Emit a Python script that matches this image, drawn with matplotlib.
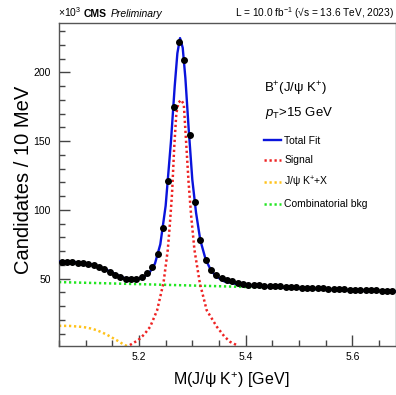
import numpy as np
import matplotlib
matplotlib.use('Agg')
import matplotlib.pyplot as plt
from matplotlib.ticker import MultipleLocator
from matplotlib.lines import Line2D

plt.rcParams['font.family'] = ['Liberation Sans', 'DejaVu Sans']
plt.rcParams['mathtext.fontset'] = 'custom'
plt.rcParams['mathtext.rm'] = 'Liberation Sans'
plt.rcParams['mathtext.it'] = 'Liberation Sans:italic'
plt.rcParams['mathtext.bf'] = 'Liberation Sans:bold'

# data: candidates per 10 MeV bin (x 10^3)
mass = np.round(np.arange(5.055, 5.676, 0.01), 3)
counts = [62.0, 62.2, 62.0, 61.6, 61.2, 60.6, 59.6, 58.4, 56.8, 54.9,
          52.9, 51.2, 50.0, 49.6, 50.0, 51.5, 53.8, 58.8, 68.2, 86.8,
          121.4, 175.2, 222.0, 209.3, 154.3, 105.9, 77.9, 63.3, 56.5, 52.8,
          50.6, 49.2, 48.0, 47.0, 46.3,
          45.7, 45.4, 45.1, 44.9, 44.7, 44.5, 44.3, 44.1, 43.9, 43.7,
          43.5, 43.4, 43.2, 43.0, 42.9, 42.7, 42.6, 42.4, 42.3, 42.1,
          42.0, 41.8, 41.7, 41.5, 41.4, 41.3, 41.1, 41.0]

# fit curves
total_x = [5.05, 5.07, 5.09, 5.11, 5.13, 5.15, 5.165, 5.18, 5.195, 5.21,
           5.22, 5.23, 5.24, 5.25, 5.26, 5.267, 5.272, 5.277, 5.282, 5.287,
           5.293, 5.30, 5.307, 5.315, 5.325, 5.335, 5.345, 5.36, 5.38, 5.40,
           5.42, 5.45, 5.50, 5.55, 5.60, 5.65, 5.683]
total_y = [62.5, 62.3, 61.8, 60.5, 58.0, 54.5, 51.5, 49.5, 49.5, 51.5,
           54.5, 61.0, 75.0, 103.0, 150.0, 190.0, 214.0, 225.0, 218.0, 196.0,
           160.0, 122.0, 98.0, 78.0, 64.0, 56.0, 51.5, 48.0, 46.3, 45.2,
           44.5, 43.8, 42.9, 42.1, 41.5, 41.0, 40.7]

signal_x = [5.183, 5.199, 5.210, 5.221, 5.234, 5.246, 5.254, 5.258, 5.262, 5.266,
            5.270, 5.274, 5.279, 5.284, 5.288, 5.293, 5.298, 5.304, 5.314, 5.327,
            5.346, 5.360, 5.371, 5.383]
signal_y = [1.7, 5.4, 9.5, 15.0, 27.0, 47.0, 71.0, 90.0, 112.0, 145.0,
            170.0, 178.0, 180.0, 177.0, 152.0, 120.0, 95.0, 71.0, 47.0, 27.0,
            15.0, 8.0, 4.0, 1.7]

partreco_x = [5.05, 5.07, 5.09, 5.10, 5.11, 5.12, 5.13, 5.14, 5.15, 5.16, 5.17, 5.18]
partreco_y = [15.7, 15.6, 15.0, 14.5, 13.7, 12.6, 11.0, 9.2, 7.0, 4.8, 2.4, 0.5]

comb_x = [5.05, 5.20, 5.35, 5.50, 5.683]
comb_y = [47.5, 46.0, 44.5, 42.8, 40.6]

fig = plt.figure(figsize=(3.96, 3.95), dpi=100)
ax = fig.add_axes([59/396, 1-346/395, 337/396, 323/395])

dots = (0, (0.9, 1.1))
ax.plot(comb_x, comb_y, color='#22e622', lw=1.8, ls=dots, zorder=2)
ax.plot(partreco_x, partreco_y, color='#ffc21a', lw=1.8, ls=dots, zorder=2)
ax.plot(signal_x, signal_y, color='#ee2222', lw=1.8, ls=dots, zorder=3)
ax.plot(total_x, total_y, color='#0a14dc', lw=1.7, zorder=4)
ax.plot(mass, counts, 'o', color='black', ms=4, zorder=5)

ax.set_xlim(5.05, 5.682)
ax.set_ylim(1, 236)
ax.xaxis.set_major_locator(MultipleLocator(0.2))
ax.xaxis.set_minor_locator(MultipleLocator(0.05))
ax.yaxis.set_major_locator(MultipleLocator(50))
ax.yaxis.set_minor_locator(MultipleLocator(10))
ax.tick_params(which='both', direction='in', top=False, right=False, color='#444444')
ax.tick_params(which='major', length=8, width=1)
ax.tick_params(which='minor', length=4, width=1)
ax.tick_params(axis='x', labelsize=7.5, pad=4.5)
ax.tick_params(axis='y', labelsize=7.5, pad=6)
ax.xaxis.set_major_formatter(plt.FuncFormatter(lambda v, p: f'{v:.1f}'))
for s in ax.spines.values():
    s.set_color('#555555')
    s.set_linewidth(1)

fig.text(24/396, 1-180/395, 'Candidates / 10 MeV', rotation=90, ha='center', va='center',
         fontsize=14.5)
fig.text(231/396, 1-380/395, 'M(J/ψ K$^{+}$) [GeV]', ha='center', va='center', fontsize=11.5)

# header
fig.text(58/396, 1-17/395, r'$\times10^{3}$', ha='left', va='baseline', fontsize=7.5)
fig.text(84/396, 1-17/395, 'CMS', ha='left', va='baseline', fontsize=7.5, fontweight='bold')
fig.text(111/396, 1-17/395, 'Preliminary', ha='left', va='baseline', fontsize=7.5, style='italic')
fig.text(394/396, 1-17/395, 'L = 10.0 fb$^{-1}$ (√s = 13.6 TeV, 2023)', ha='right', va='baseline',
         fontsize=7.3)

fig.text(264/396, 1-92/395, 'B$^{+}$(J/ψ K$^{+}$)', ha='left', va='baseline', fontsize=9.5)
fig.text(265/396, 1-116/395, r'$p_{\mathrm{T}}$>15 GeV', ha='left', va='baseline', fontsize=9.5)

handles = [Line2D([], [], color='#0a14dc', lw=1.7),
           Line2D([], [], color='#ee2222', lw=1.8, ls=dots),
           Line2D([], [], color='#ffc21a', lw=1.8, ls=dots),
           Line2D([], [], color='#22e622', lw=1.8, ls=dots)]
labels = ['Total Fit', 'Signal', 'J/ψ K$^{+}$+X', 'Combinatorial bkg']
fig.legend(handles, labels, loc='upper left', bbox_to_anchor=(264/396, 1-136/395),
           frameon=False, fontsize=7.5, handlelength=1.6, handletextpad=0.35,
           labelspacing=0.9, borderpad=0, borderaxespad=0)

fig.savefig('out.png', dpi=100)
